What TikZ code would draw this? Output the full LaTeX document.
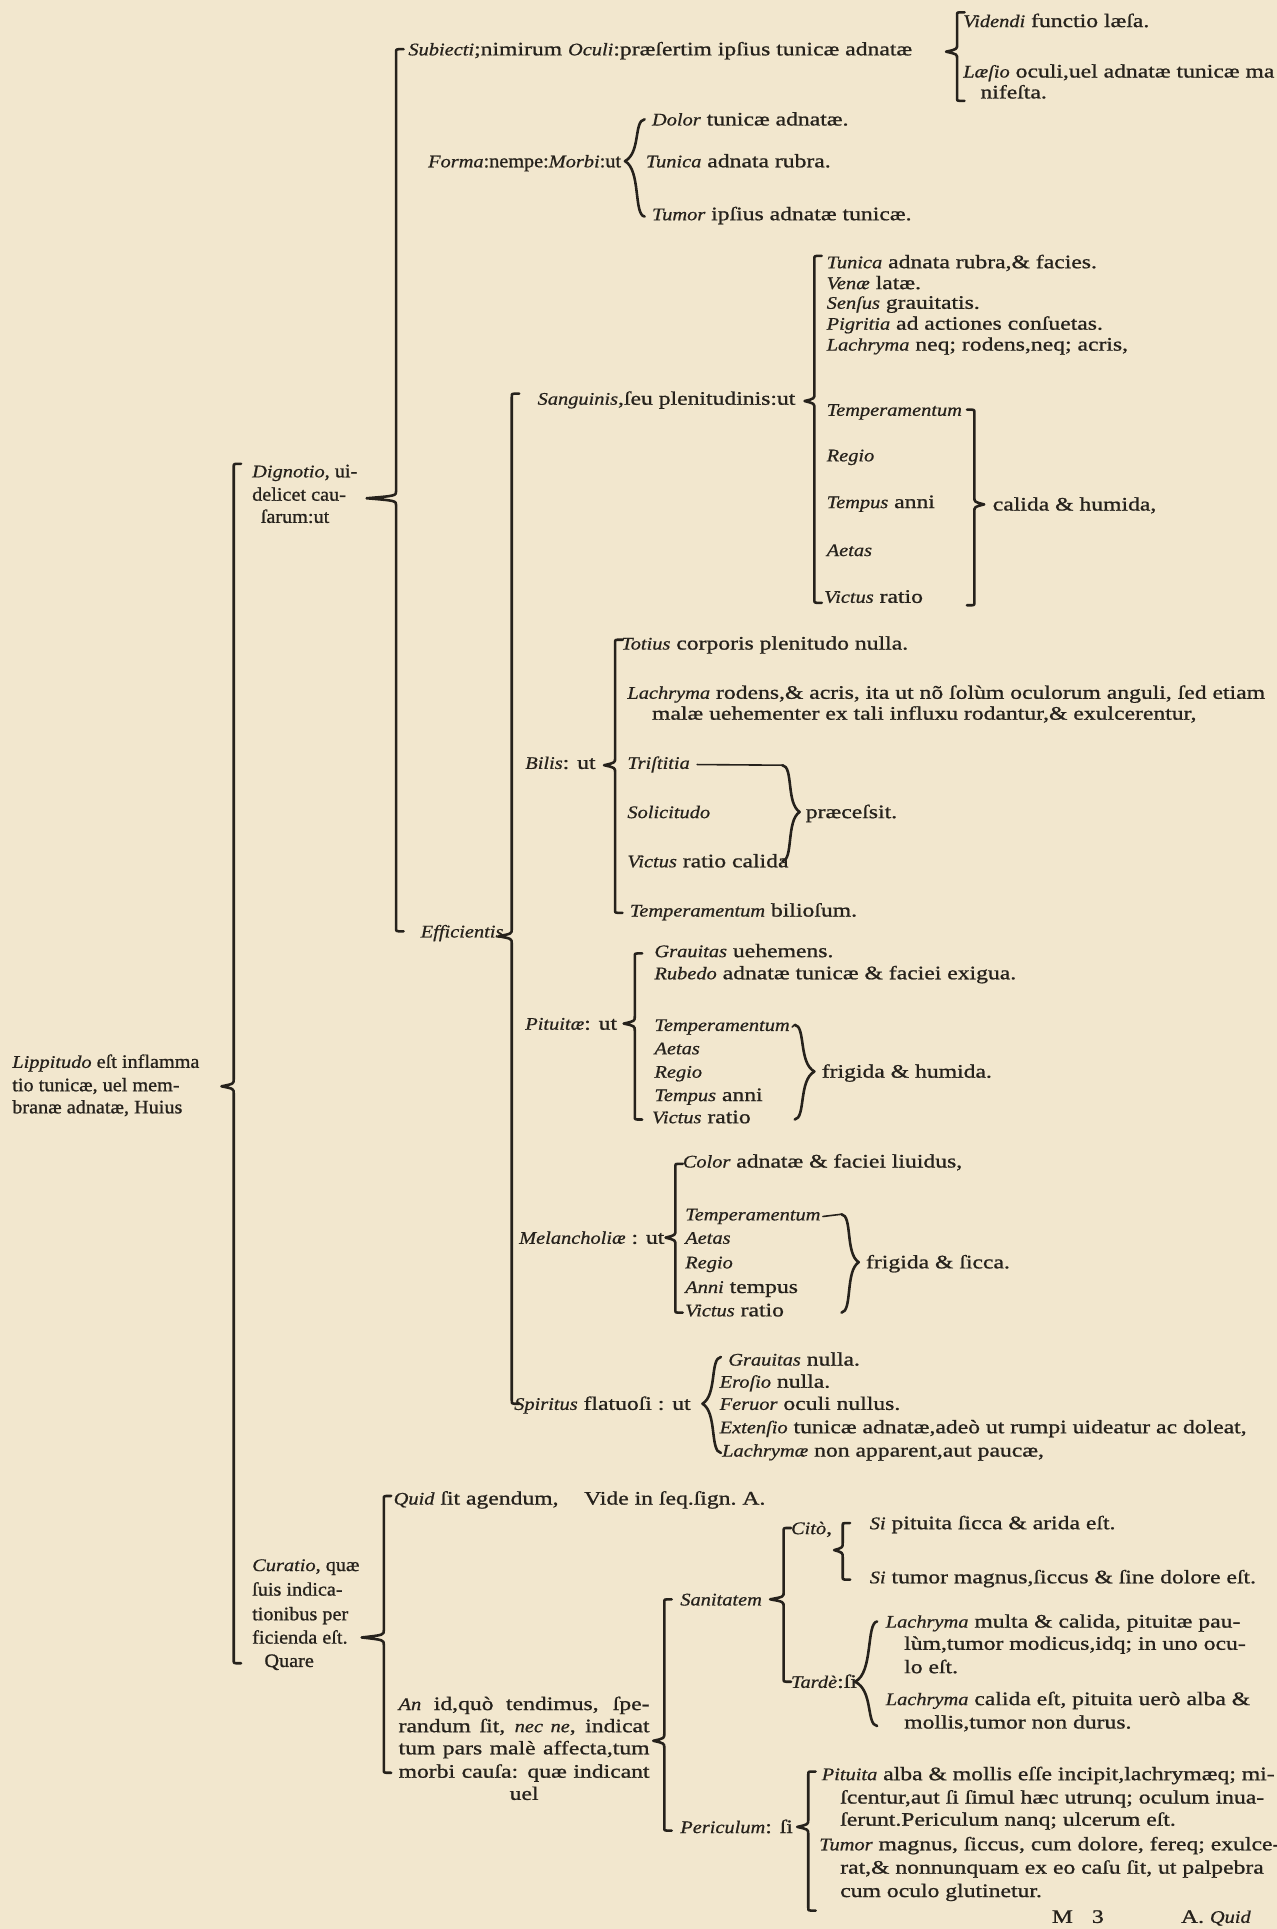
\documentclass[tikz,border=0pt]{standalone}
\usepackage{fontspec}
\setmainfont{Liberation Serif}[FakeStretch=1.24,FakeBold=1.0]
\newfontfamily\narrowfam{Liberation Serif}[FakeStretch=1.06,FakeBold=1.0]
\newfontfamily\itfam{Liberation Serif}[FakeStretch=1.15,Scale=0.93,FakeBold=0.7]
\renewcommand{\textit}[1]{{\itfam\itshape #1}}
\definecolor{paper}{RGB}{242,231,206}
\definecolor{ink}{RGB}{38,34,28}
% left brace, square-ish hooks: x, ytop, ybot, xtip, ytip
\newcommand\BL[5]{\draw[br] (#1+6,#2) -- (#1+2,#2) .. controls (#1,#2) .. (#1,#2+3) -- (#1,#5-6) .. controls (#1,#5-2) .. (#4,#5) .. controls (#1,#5+2) .. (#1,#5+6) -- (#1,#3-3) .. controls (#1,#3) .. (#1+2,#3) -- (#1+6,#3);}
% left brace, curly
\newcommand\CL[5]{\draw[br] (#1+6,#2) .. controls (#1-3,#2+1) and (#1+3,#5-7) .. (#4,#5) .. controls (#1+3,#5+7) and (#1-3,#3-1) .. (#1+6,#3);}
% right brace, curly
\newcommand\CR[5]{\draw[br] (#1-6,#2) .. controls (#1+3,#2+1) and (#1-3,#5-7) .. (#4,#5) .. controls (#1-3,#5+7) and (#1+3,#3-1) .. (#1-6,#3);}
% right bracket, square
\newcommand\BR[5]{\draw[br] (#1-6,#2) -- (#1-2,#2) .. controls (#1,#2) .. (#1,#2+3) -- (#1,#5-6) .. controls (#1,#5-2) .. (#4,#5) .. controls (#1,#5+2) .. (#1,#5+6) -- (#1,#3-3) .. controls (#1,#3) .. (#1-2,#3) -- (#1-6,#3);}
\begin{document}
\begin{tikzpicture}[x=1pt,y=-1pt,
  every node/.style={inner sep=0pt,outer sep=0pt,anchor=base west,text=ink,font=\fontsize{15.5}{17}\selectfont},
  narrow/.style={font=\fontsize{15.5}{17}\narrowfam},
  br/.style={draw=ink,line width=2.1pt,line cap=round,line join=round}]
\useasboundingbox (0,0) rectangle (1038,1568);
\fill[paper] (0,0) rectangle (1038,1568);

% ---------- braces ----------
\BL{190}{377}{1352}{180}{883}      % root
\BL{322}{40}{757}{298}{405}        % Dignotio
\BL{778}{10}{82}{769}{42}          % Subiecti
\CL{518}{97}{176}{508}{131}        % Forma
\BL{416}{320}{1141}{405}{761}      % Efficientis
\BL{662}{208}{490}{654}{326}       % Sanguinis
\BR{792}{333}{492}{800}{410}       % calida & humida
\BL{500}{520}{742}{491}{622}       % Bilis
\CR{642}{622}{700}{650}{660}       % praecessit
\BL{516}{775}{910}{507}{832}       % Pituita
\CR{652}{833}{910}{662}{871}       % frigida & humida
\BL{549}{946}{1067}{541}{1006}     % Melancholia
\CR{690}{987}{1067}{698}{1026}     % frigida & sicca
\CL{580}{1103}{1181}{571}{1141}    % Spiritus
\BL{312}{1216}{1441}{294}{1331}    % Curatio
\BL{540}{1300}{1488}{531}{1415}    % Sanitatem / Periculum
\BL{637}{1242}{1367}{626}{1300}    % Sanitatem
\BL{685}{1238}{1284}{678}{1260}    % Cito
\CL{707}{1318}{1403}{695}{1367}    % Tarde
\BL{657}{1440}{1553}{648}{1485}    % Periculum

% ---------- root ----------
\node[narrow] (r1) at (10,868) {\textit{Lippitudo} eſt inflamma};
\node[narrow] (r2) at (10,887) {tio tunicæ, uel mem-};
\node[narrow] (r3) at (10,905) {branæ adnatæ, Huius};

% ---------- Dignotio ----------
\node[narrow] (d1) at (205,388) {\textit{Dignotio}, ui-};
\node[narrow] (d2) at (205,407) {delicet cau-};
\node[narrow] (d3) at (212,425) {ſarum:ut};

\node (sub) at (332,45) {\textit{Subiecti};nimirum \textit{Oculi}:præſertim ipſius tunicæ adnatæ};
\node (v1) at (783,22) {\textit{Videndi} functio læſa.};
\node (v2) at (783,63) {\textit{Læſio} oculi,uel adnatæ tunicæ ma};
\node (v3) at (797,80) {nifeſta.};

\node[narrow] (fo) at (348,136) {\textit{Forma}:nempe:\textit{Morbi}:ut};
\node (f1) at (530,102) {\textit{Dolor} tunicæ adnatæ.};
\node (f2) at (525,136) {\textit{Tunica} adnata rubra.};
\node (f3) at (530,179) {\textit{Tumor} ipſius adnatæ tunicæ.};

\node (ef) at (342,762) {\textit{Efficientis}};

% Sanguinis
\node (sg) at (437,329) {\textit{Sanguinis},ſeu plenitudinis:ut};
\node (sg1) at (672,218) {\textit{Tunica} adnata rubra,\& facies.};
\node (sg2) at (672,235) {\textit{Venæ} latæ.};
\node (sg3) at (672,251) {\textit{Senſus} grauitatis.};
\node (sg4) at (672,268) {\textit{Pigritia} ad actiones conſuetas.};
\node (sg5) at (672,285) {\textit{Lachryma} neq; rodens,neq; acris,};
\node (sg6) at (672,338) {\textit{Temperamentum}};
\node (sg7) at (672,375) {\textit{Regio}};
\node (sg8) at (672,413) {\textit{Tempus} anni};
\node (sg9) at (672,452) {\textit{Aetas}};
\node (sg10) at (670,490) {\textit{Victus} ratio};
\node (cal) at (807,415) {calida \& humida,};

% Bilis
\node (bi) at (427,625) {\textit{Bilis}: ut};
\node (b1) at (505,528) {\textit{Totius} corporis plenitudo nulla.};
\node (b2) at (510,568) {\textit{Lachryma} rodens,\& acris, ita ut nõ ſolùm oculorum anguli, ſed etiam};
\node (b2b) at (530,585) {malæ uehementer ex tali influxu rodantur,\& exulcerentur,};
\node (b3) at (510,625) {\textit{Triſtitia}};
\node (b4) at (510,665) {\textit{Solicitudo}};
\node (b5) at (510,705) {\textit{Victus} ratio calida};
\node (b6) at (512,745) {\textit{Temperamentum} bilioſum.};
\node (pr) at (655,665) {præceſsit.};
\draw[br,line width=1.3pt] ([xshift=6pt]b3.east) -- (636,622);

% Pituita
\node (pi) at (427,837) {\textit{Pituitæ}: ut};
\node (p1) at (532,778) {\textit{Grauitas} uehemens.};
\node (p2) at (532,796) {\textit{Rubedo} adnatæ tunicæ \& faciei exigua.};
\node (p3) at (532,838) {\textit{Temperamentum}};
\node (p4) at (532,857) {\textit{Aetas}};
\node (p5) at (532,876) {\textit{Regio}};
\node (p6) at (532,895) {\textit{Tempus} anni};
\node (p7) at (530,913) {\textit{Victus} ratio};
\node (pf) at (668,876) {frigida \& humida.};
\draw[br,line width=1.3pt] ([xshift=2pt]p3.east) -- (646,833);

% Melancholia
\node (me) at (422,1011) {\textit{Melancholiæ} : ut};
\node (m1) at (555,949) {\textit{Color} adnatæ \& faciei liuidus,};
\node (m2) at (557,992) {\textit{Temperamentum}};
\node (m3) at (557,1011) {\textit{Aetas}};
\node (m4) at (557,1031) {\textit{Regio}};
\node (m5) at (557,1051) {\textit{Anni} tempus};
\node (m6) at (557,1070) {\textit{Victus} ratio};
\node (mf) at (704,1031) {frigida \& ſicca.};
\draw[br,line width=1.3pt] ([xshift=2pt]m2.east) -- (684,987);

% Spiritus
\node (sp) at (418,1146) {\textit{Spiritus} flatuoſi : ut};
\node (s1) at (592,1110) {\textit{Grauitas} nulla.};
\node (s2) at (585,1128) {\textit{Eroſio} nulla.};
\node (s3) at (585,1146) {\textit{Feruor} oculi nullus.};
\node (s4) at (585,1165) {\textit{Extenſio} tunicæ adnatæ,adeò ut rumpi uideatur ac doleat,};
\node (s5) at (587,1184) {\textit{Lachrymæ} non apparent,aut paucæ,};

% ---------- Curatio ----------
\node[narrow] (c1) at (205,1277) {\textit{Curatio}, quæ};
\node[narrow] (c2) at (205,1297) {ſuis indica-};
\node[narrow] (c3) at (205,1317) {tionibus per};
\node[narrow] (c4) at (205,1336) {ficienda eſt.};
\node[narrow] (c5) at (215,1355) {Quare};

\node (qu) at (320,1223) {\textit{Quid} ſit agendum,\hspace{16pt} Vide in ſeq.ſign.\ A.};
\node (a1) at (324,1390) {\makebox[204pt][s]{\textit{An} id,quò tendimus, ſpe-}};
\node (a2) at (324,1408) {\makebox[204pt][s]{randum ſit, \textit{nec ne}, indicat}};
\node (a3) at (324,1426) {\makebox[204pt][s]{tum pars malè affecta,tum}};
\node (a4) at (324,1445) {\makebox[204pt][s]{morbi cauſa: quæ indicant}};
\node[anchor=base] (a5) at (426,1463) {uel};

\node (sa) at (553,1305) {\textit{Sanitatem}};
\node (ci) at (643,1247) {\textit{Citò},};
\node (ci1) at (707,1243) {\textit{Si} pituita ſicca \& arida eſt.};
\node (ci2) at (707,1287) {\textit{Si} tumor magnus,ſiccus \& ſine dolore eſt.};
\node (ta) at (643,1372) {\textit{Tardè}:ſi};
\node (t1) at (720,1323) {\textit{Lachryma} multa \& calida, pituitæ pau-};
\node (t2) at (735,1341) {lùm,tumor modicus,idq; in uno ocu-};
\node (t3) at (735,1360) {lo eſt.};
\node (t4) at (720,1386) {\textit{Lachryma} calida eſt, pituita uerò alba \&};
\node (t5) at (735,1405) {mollis,tumor non durus.};

\node (pe) at (553,1490) {\textit{Periculum}: ſi};
\node (pe1) at (668,1447) {\textit{Pituita} alba \& mollis eſſe incipit,lachrymæq; mi-};
\node (pe2) at (683,1466) {ſcentur,aut ſi ſimul hæc utrunq; oculum inua-};
\node (pe3) at (683,1484) {ſerunt.Periculum nanq; ulcerum eſt.};
\node (pe4) at (666,1504) {\textit{Tumor} magnus, ſiccus, cum dolore, fereq; exulce-};
\node (pe5) at (683,1523) {rat,\& nonnunquam ex eo caſu ſit, ut palpebra};
\node (pe6) at (683,1542) {cum oculo glutinetur.};

\node (ft1) at (855,1563) {M\quad 3};
\node (ft2) at (960,1563) {A. \textit{Quid}};
\end{tikzpicture}
\end{document}
